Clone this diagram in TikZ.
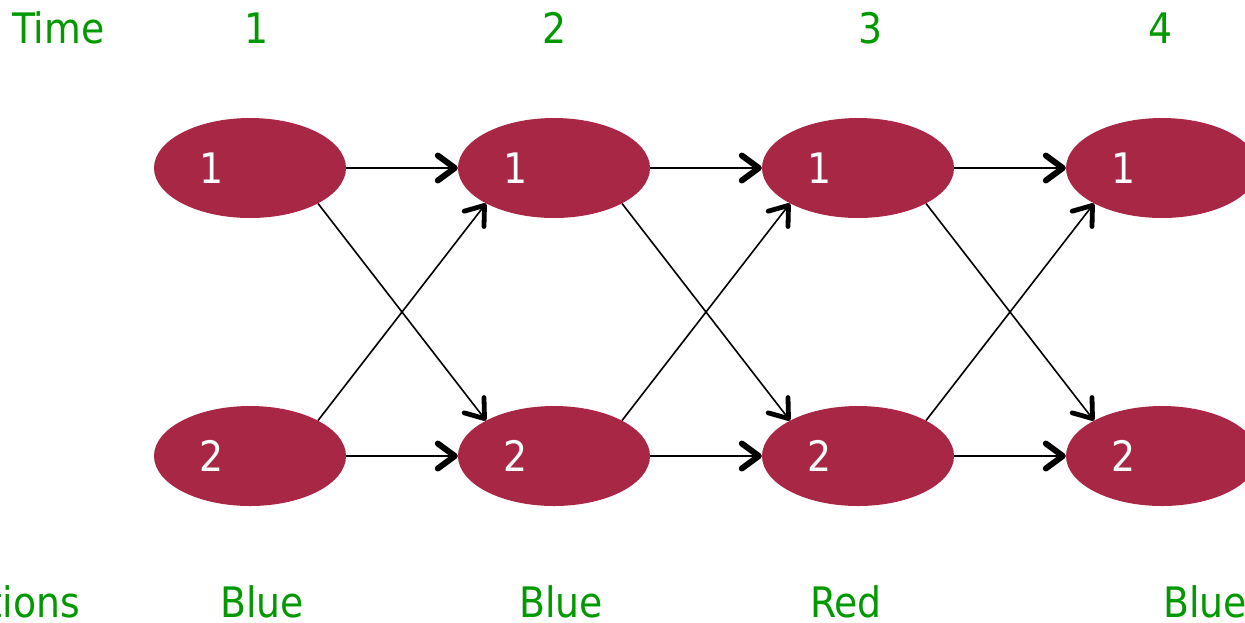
\documentclass[tikz,border=0pt]{standalone}
\usepackage{fontspec}
\setmainfont{DejaVu Sans Condensed}
\usetikzlibrary{arrows.meta,shapes.geometric}
\definecolor{statefill}{RGB}{168,39,68}
\definecolor{labgreen}{RGB}{0,153,0}
\tikzset{
  state/.style={ellipse, fill=statefill, minimum width=192pt, minimum height=100pt, inner sep=0pt},
  statenum/.style={label={[white, font=\fontsize{42}{46}\selectfont, inner sep=0pt, xshift=-38pt]center:#1}},
  glab/.style={text=labgreen, font=\fontsize{42}{46}\selectfont, inner sep=0pt},
  barb/.style={-{Straight Barb[length=17pt, width=25pt, line width=0pt 3, round]}},
  harrow/.style={line width=2pt, barb},
  darrow/.style={line width=1.6pt, barb},
}
\begin{document}
\begin{tikzpicture}[x=1pt, y=-1pt]
\useasboundingbox (0,0) rectangle (1245,622);
\clip (0,0) rectangle (1245,622);
% time labels
\node[glab, anchor=base west] (time) at (12,43) {Time};
\node[glab, anchor=base] (t1) at (256.5,43) {1};
\node[glab, anchor=base] (t2) at (555,43) {2};
\node[glab, anchor=base] (t3) at (871,43) {3};
\node[glab, anchor=base] (t4) at (1161,43) {4};
% states
\foreach \c/\x in {1/250, 2/554, 3/858, 4/1162}{
  \node[state, statenum=1] (a\c) at (\x,168) {};
  \node[state, statenum=2] (b\c) at (\x,456) {};
}
% transitions
\foreach \i/\j in {1/2, 2/3, 3/4}{
  \draw[harrow] (a\i.east) -- (a\j.west);
  \draw[harrow] (b\i.east) -- (b\j.west);
  \draw[darrow] (a\i.south east) -- (b\j.north west);
  \draw[darrow] (b\i.north east) -- (a\j.south west);
}
% observations
\node[glab, anchor=base east] (obs) at (80,617) {Observations};
\node[glab, anchor=base] (o1) at (262,617) {Blue};
\node[glab, anchor=base] (o2) at (561,617) {Blue};
\node[glab, anchor=base] (o3) at (846,617) {Red};
\node[glab, anchor=base west] (o4) at (1163,617) {Blue};
\end{tikzpicture}
\end{document}
